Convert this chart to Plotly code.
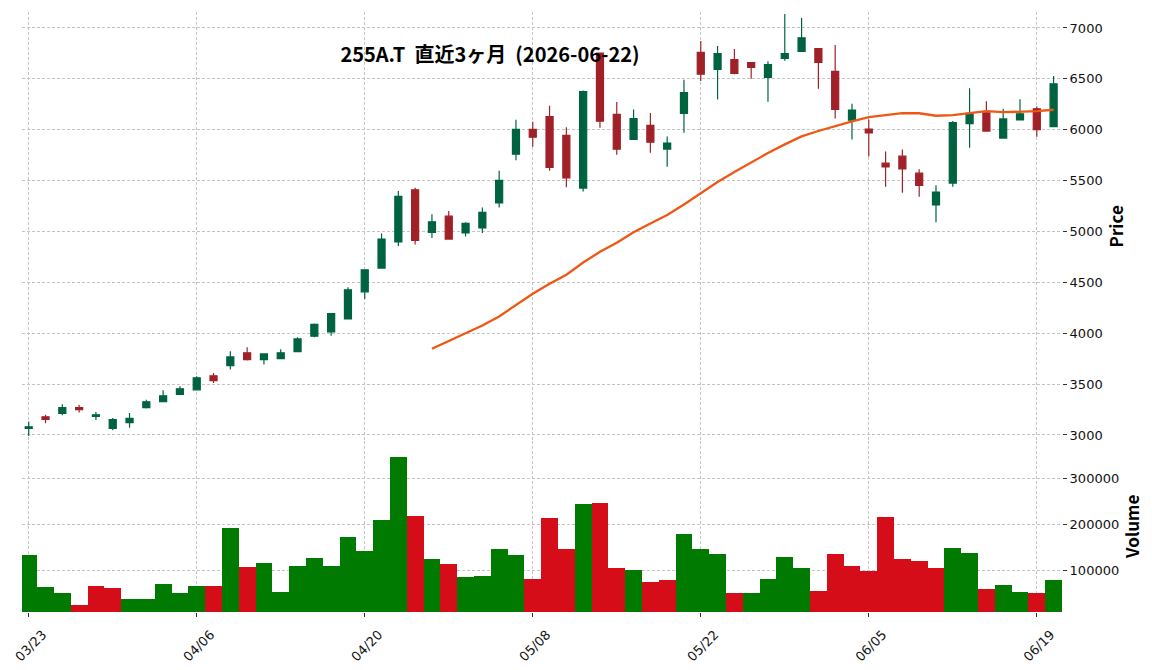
import plotly.graph_objects as go
import pandas as pd

ticker = "255A.T"
title_label = "直近3ヶ月"
last_date = "2026-06-22"

dates = [
    "2026-03-23", "2026-03-24", "2026-03-25", "2026-03-26", "2026-03-27", "2026-03-30", "2026-03-31",
    "2026-04-01", "2026-04-02", "2026-04-03", "2026-04-06", "2026-04-07", "2026-04-08", "2026-04-09",
    "2026-04-10", "2026-04-13", "2026-04-14", "2026-04-15", "2026-04-16", "2026-04-17", "2026-04-20",
    "2026-04-21", "2026-04-22", "2026-04-23", "2026-04-24", "2026-04-27", "2026-04-28", "2026-04-30",
    "2026-05-01", "2026-05-07", "2026-05-08", "2026-05-11", "2026-05-12", "2026-05-13", "2026-05-14",
    "2026-05-15", "2026-05-18", "2026-05-19", "2026-05-20", "2026-05-21", "2026-05-22", "2026-05-25",
    "2026-05-26", "2026-05-27", "2026-05-28", "2026-05-29", "2026-06-01", "2026-06-02", "2026-06-03",
    "2026-06-04", "2026-06-05", "2026-06-08", "2026-06-09", "2026-06-10", "2026-06-11", "2026-06-12",
    "2026-06-15", "2026-06-16", "2026-06-17", "2026-06-18", "2026-06-19", "2026-06-22",
]

opens = [3065, 3179, 3212, 3270, 3182, 3065, 3121, 3268, 3328, 3400,
         3444, 3581, 3682, 3807, 3741, 3751, 3820, 3971, 4013, 4140,
         4407, 4640, 4897, 5410, 4990, 5150, 4986, 5035, 5280, 5760,
         6003, 6130, 5944, 5427, 6754, 6150, 5905, 6042, 5810, 6160,
         6760, 6594, 6689, 6659, 6515, 6701, 6770, 6797, 6574, 6094,
         6005, 5671, 5740, 5573, 5260, 5476, 6060, 6165, 5918, 6096,
         6205, 6030]
highs = [3133, 3199, 3302, 3296, 3225, 3168, 3215, 3345, 3440, 3480,
         3578, 3610, 3823, 3862, 3800, 3843, 3960, 4095, 4200, 4451,
         4625, 4980, 5397, 5430, 5170, 5202, 5090, 5235, 5598, 6097,
         6078, 6235, 6024, 6385, 6760, 6272, 6198, 6165, 5934, 6490,
         6872, 6823, 6794, 6665, 6672, 7137, 7097, 6800, 6833, 6255,
         6100, 5786, 5806, 5612, 5454, 6086, 6408, 6280, 6205, 6300,
         6228, 6527]
lows = [2990, 3116, 3193, 3222, 3147, 3047, 3070, 3260, 3325, 3398,
        3437, 3510, 3643, 3731, 3692, 3750, 3813, 3960, 3976, 4138,
        4336, 4638, 4858, 4872, 4935, 4920, 4950, 4985, 5235, 5699,
        5833, 5598, 5434, 5392, 6019, 5755, 5900, 5774, 5637, 5970,
        6480, 6297, 6545, 6500, 6274, 6679, 6764, 6402, 6111, 5905,
        5736, 5440, 5381, 5342, 5091, 5440, 5822, 5980, 5915, 6090,
        5931, 6025]
closes = [3080, 3153, 3268, 3248, 3198, 3150, 3163, 3326, 3385, 3454,
          3562, 3535, 3767, 3741, 3797, 3807, 3944, 4088, 4192, 4427,
          4623, 4924, 5345, 4912, 5095, 4925, 5081, 5189, 5503, 6003,
          5927, 5630, 5526, 6375, 6084, 5808, 6110, 5878, 5868, 6365,
          6545, 6747, 6554, 6613, 6640, 6747, 6904, 6662, 6200, 6192,
          5968, 5635, 5615, 5454, 5388, 6069, 6161, 5987, 6106, 6156,
          6001, 6452]
volumes = [135100, 66300, 53400, 27600, 68500, 64200, 40500, 40500, 72800, 53400,
           68500, 68500, 193200, 109300, 117900, 55600, 111500, 128700, 111500, 173800,
           143700, 210400, 345900, 219000, 126500, 115800, 87800, 90000, 148000, 135100,
           83500, 214700, 148000, 244800, 247000, 107200, 102900, 77100, 81400, 180300,
           148000, 137300, 53400, 53400, 83500, 130800, 107200, 57700, 137300, 111500,
           100700, 216800, 126500, 122200, 107200, 150200, 139400, 62000, 70600, 55600,
           53400, 81400]

price_ticks = [3000, 3500, 4000, 4500, 5000, 5500, 6000, 6500, 7000]
volume_ticks = [100000, 200000, 300000]
tick_every = 10
ma_window = 25

UP = "#006340"
DOWN = "#a02128"
VOL_UP = "#007a00"
VOL_DOWN = "#d50d18"
MA_COLOR = "#ef5714"
GRID = "#c4c4c4"

xs = list(range(len(dates)))
ma = pd.Series(closes).rolling(ma_window).mean()
vol_colors = [VOL_UP if i == 0 or closes[i] >= closes[i - 1] else VOL_DOWN for i in xs]
tickvals = xs[::tick_every]
ticktext = [pd.Timestamp(dates[i]).strftime("%m/%d") for i in tickvals]

fig = go.Figure()
fig.add_trace(go.Candlestick(
    x=xs, open=opens, high=highs, low=lows, close=closes,
    increasing=dict(line=dict(color=UP, width=1.2), fillcolor=UP),
    decreasing=dict(line=dict(color=DOWN, width=1.2), fillcolor=DOWN),
    xaxis="x", yaxis="y", showlegend=False,
))
fig.add_trace(go.Scatter(
    x=xs, y=ma, mode="lines", line=dict(color=MA_COLOR, width=2.3),
    xaxis="x", yaxis="y", showlegend=False,
))
fig.add_trace(go.Bar(
    x=xs, y=volumes, marker=dict(color=vol_colors, line=dict(width=0)),
    width=1.0, xaxis="x2", yaxis="y2", showlegend=False,
))

xr = [-0.4, 61.5]
tickfont = dict(family="DejaVu Sans", size=13, color="#111111")
axis_title_font = dict(family="Noto Sans CJK JP", size=17, color="#000000", weight=600)
grid = dict(showgrid=True, gridcolor=GRID, gridwidth=0.8, griddash="3px,2px",
            zeroline=False, showline=False, automargin=False)
fig.update_layout(
    width=1152, height=670,
    margin=dict(l=22, r=90, t=12, b=58),
    paper_bgcolor="white", plot_bgcolor="white",
    boxgap=0.4,
    bargap=0,
    title=dict(
        text=f"<b>{ticker}\u00a0\u00a0{title_label}\u00a0\u00a0({last_date})</b>",
        font=dict(family="Noto Sans CJK JP", size=20, color="#000000"),
        xref="container", yref="container",
        x=490 / 1152, y=1 - 55 / 670, xanchor="center", yanchor="middle",
        automargin=False,
    ),
    xaxis=dict(
        domain=[0, 1], anchor="y", range=xr, rangeslider=dict(visible=False),
        tickvals=tickvals, showticklabels=False, ticks="", **grid,
    ),
    yaxis=dict(
        domain=[2 / 7, 1], anchor="x", side="right", range=[2945, 7157],
        tickvals=price_ticks, ticks="outside", ticklen=4, tickcolor="#333333",
        tickfont=tickfont, tickformat="d", **grid,
        title=dict(text="Price", font=axis_title_font, standoff=8),
    ),
    xaxis2=dict(
        domain=[0, 1], anchor="y2", range=xr, matches="x",
        tickvals=tickvals, ticktext=ticktext, tickangle=-45,
        ticks="outside", ticklen=4, tickcolor="#333333",
        tickfont=tickfont, ticklabelshift=14, ticklabelstandoff=5, **grid,
    ),
    yaxis2=dict(
        domain=[0, 2 / 7], anchor="x2", side="right", range=[11000, 381500],
        tickvals=volume_ticks, ticks="outside", ticklen=4, tickcolor="#333333",
        tickfont=tickfont, tickformat="d", **grid,
        title=dict(text="Volume", font=axis_title_font, standoff=8),
    ),
)

fig.write_html("out.html")
